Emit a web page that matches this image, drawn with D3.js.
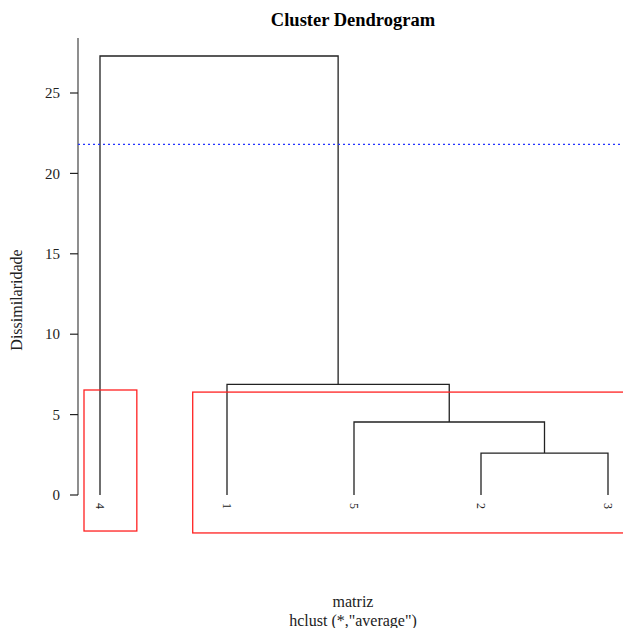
<!DOCTYPE html>
<html>
<head>
<meta charset="utf-8">
<script src="https://cdn.jsdelivr.net/npm/d3@7"></script>
<style>
  body { margin: 0; background: #fff; }
  text { font-family: "Liberation Serif", "DejaVu Serif", serif; }
</style>
</head>
<body>
<svg id="chart" width="623" height="628"></svg>
<script>
// leaf order as drawn, and merges (child a, child b, height)
var leafOrder = ["4", "1", "5", "2", "3"];
var merges = [
    { id: "m1", a: "2", b: "3", h: 2.61 },
    { id: "m2", a: "5", b: "m1", h: 4.54 },
    { id: "m3", a: "1", b: "m2", h: 6.88 },
    { id: "m4", a: "4", b: "m3", h: 27.3 }
];
var yTicks = [0, 5, 10, 15, 20, 25];
var cutHeight = 21.8;
// cluster boxes in leaf-index units (1..5) and height units
var boxes = [
    { x0: 0.874, x1: 1.29, y0: -2.24, y1: 6.53 },
    { x0: 1.73, x1: 5.2, y0: -2.36, y1: 6.4 }
];

var svg = d3.select("#chart");

var x = d3.scalePoint().domain(leafOrder).range([100, 608]);
var xi = d3.scaleLinear().domain([1, 5]).range([100, 608]);
var y = d3.scaleLinear().domain([0, 25]).range([495, 93]);

// node positions
var pos = {};
leafOrder.forEach(function(l) { pos[l] = { x: x(l), h: 0 }; });
merges.forEach(function(m) {
    pos[m.id] = { x: (pos[m.a].x + pos[m.b].x) / 2, h: m.h };
});

// y axis
var axisG = svg.append("g").attr("transform", "translate(78,0)");
axisG.append("line")
    .attr("x1", 0).attr("x2", 0)
    .attr("y1", 38).attr("y2", y(0))
    .attr("stroke", "#444").attr("stroke-width", 1.2);
axisG.selectAll(".tick")
    .data(yTicks)
    .enter().append("line")
    .attr("x1", -8).attr("x2", 0)
    .attr("y1", d => y(d)).attr("y2", d => y(d))
    .attr("stroke", "#222").attr("stroke-width", 1.2);
axisG.selectAll(".tlabel")
    .data(yTicks)
    .enter().append("text")
    .attr("x", -18).attr("y", d => y(d))
    .attr("dy", "0.35em")
    .attr("text-anchor", "end")
    .style("font-size", "15px")
    .attr("fill", "#222")
    .text(d => d);

// dendrogram segments
merges.forEach(function(m) {
    var a = pos[m.a], b = pos[m.b];
    svg.append("path")
        .attr("d", "M" + a.x + "," + y(a.h) + "V" + y(m.h) + "H" + b.x + "V" + y(b.h))
        .attr("fill", "none")
        .attr("stroke", "#222")
        .attr("stroke-width", 1.3);
});

// cut line
svg.append("line")
    .attr("x1", 78).attr("x2", 623)
    .attr("y1", y(cutHeight)).attr("y2", y(cutHeight))
    .attr("stroke", "#2233ff")
    .attr("stroke-width", 1.2)
    .attr("stroke-dasharray", "2,3");

// cluster boxes
svg.selectAll(".box")
    .data(boxes)
    .enter().append("rect")
    .attr("x", d => xi(d.x0))
    .attr("y", d => y(d.y1))
    .attr("width", d => xi(d.x1) - xi(d.x0))
    .attr("height", d => y(d.y0) - y(d.y1))
    .attr("fill", "none")
    .attr("stroke", "#ff2020")
    .attr("stroke-width", 1.3);

// leaf labels
svg.selectAll(".leaf")
    .data(leafOrder)
    .enter().append("text")
    .attr("transform", d => "translate(" + x(d) + ",503) rotate(90)")
    .attr("dy", "0.35em")
    .attr("text-anchor", "start")
    .style("font-size", "12px")
    .attr("fill", "#222")
    .text(d => d);

// titles
svg.append("text")
    .attr("x", 353).attr("y", 26)
    .attr("text-anchor", "middle")
    .style("font-size", "18.5px")
    .style("font-weight", "bold")
    .text("Cluster Dendrogram");

svg.append("text")
    .attr("transform", "translate(22,300) rotate(-90)")
    .attr("text-anchor", "middle")
    .style("font-size", "16px")
    .attr("fill", "#222")
    .text("Dissimilaridade");

svg.append("text")
    .attr("x", 353).attr("y", 607)
    .attr("text-anchor", "middle")
    .style("font-size", "16px")
    .attr("fill", "#222")
    .text("matriz");

svg.append("text")
    .attr("x", 353).attr("y", 626)
    .attr("text-anchor", "middle")
    .style("font-size", "16px")
    .attr("fill", "#222")
    .text('hclust (*,"average")');
</script>
</body>
</html>
